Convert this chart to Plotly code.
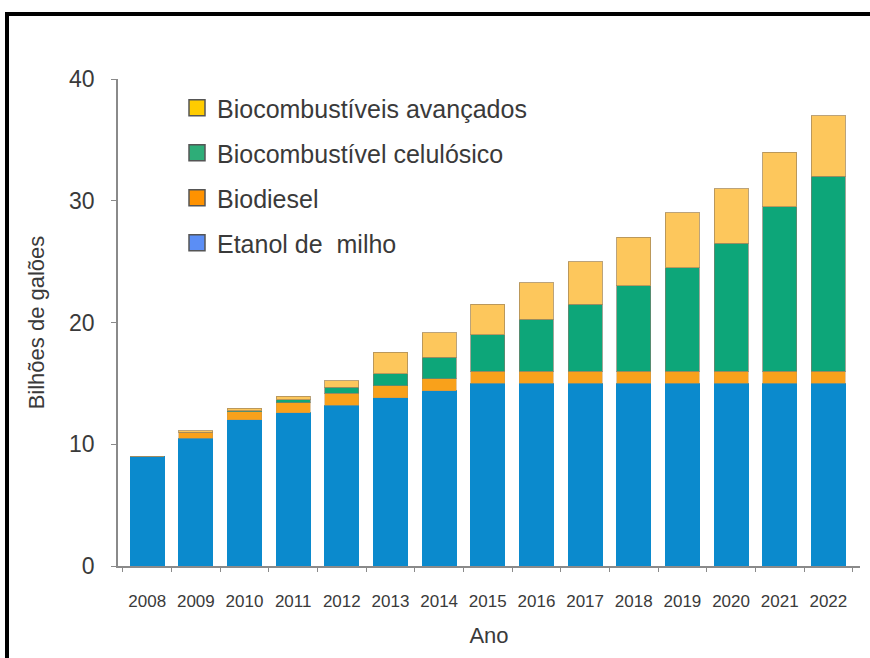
import plotly.graph_objects as go

anos = ["2008", "2009", "2010", "2011", "2012", "2013", "2014", "2015",
        "2016", "2017", "2018", "2019", "2020", "2021", "2022"]
etanol_milho = [9.0, 10.5, 12.0, 12.6, 13.2, 13.8, 14.4, 15.0, 15.0, 15.0, 15.0, 15.0, 15.0, 15.0, 15.0]
biodiesel = [0.0, 0.5, 0.65, 0.8, 1.0, 1.0, 1.0, 1.0, 1.0, 1.0, 1.0, 1.0, 1.0, 1.0, 1.0]
celulosico = [0.0, 0.0, 0.1, 0.25, 0.5, 1.0, 1.75, 3.0, 4.25, 5.5, 7.0, 8.5, 10.5, 13.5, 16.0]
avancados = [0.0, 0.1, 0.2, 0.3, 0.5, 1.75, 2.0, 2.5, 3.0, 3.5, 4.0, 4.5, 4.5, 4.5, 5.0]

y_ticks = [0, 10, 20, 30, 40]

legend_names = ["Biocombustíveis avançados", "Biocombustível celulósico", "Biodiesel", "Etanol de  milho"]
legend_colors = ["#FFCC00", "#2EAD78", "#FF9200", "#5B8EF5"]

FONT = "Liberation Sans, Arial, sans-serif"
TXT = "#3a3a3a"

fig = go.Figure()

series = [
    (etanol_milho, "#0B8ACD", "rgba(11,138,205,1)"),
    (biodiesel, "#F9A11B", "rgba(200,150,80,0.5)"),
    (celulosico, "#0DA679", "rgba(120,130,110,0.7)"),
    (avancados, "#FDC75C", "rgba(170,140,90,0.8)"),
]
for vals, col, lcol in series:
    fig.add_trace(go.Bar(x=anos, y=vals, marker=dict(color=col, line=dict(color=lcol, width=1)),
                         showlegend=False, hoverinfo="y"))

for i, (nm, col) in enumerate(zip(legend_names, legend_colors)):
    fig.add_trace(go.Scatter(x=[None], y=[None], mode="markers", name=nm, legendgroup=str(i),
                             marker=dict(symbol="square", size=20, color=col,
                                         line=dict(color="#555555", width=1.5))))

W, H = 870, 658
L, R, T, B = 118, 10, 79, 92
pw, ph = W - L - R, H - T - B


def px_x(p):
    return (p - L) / pw


def px_y(p):
    return (H - B - p) / ph


fig.update_layout(
    width=W, height=H,
    barmode="stack", bargap=0.3,
    plot_bgcolor="white", paper_bgcolor="white",
    margin=dict(l=L, r=R, t=T, b=B),
    font=dict(family=FONT, color=TXT),
    legend=dict(x=px_x(177), y=px_y(85), xanchor="left", yanchor="top", bgcolor="rgba(0,0,0,0)",
                font=dict(size=25, color=TXT), tracegroupgap=9.5, itemsizing="trace"),
    xaxis=dict(range=[-0.6, 14.65], showline=True, linecolor="#8a8a8a", linewidth=1.5,
               ticks="outside", tickson="boundaries", ticklen=4, tickcolor="#8a8a8a",
               tickfont=dict(size=17, color=TXT), ticklabelstandoff=19,
               title=dict(text="Ano", font=dict(size=22, color=TXT), standoff=17)),
    yaxis=dict(range=[0, 40], tickvals=y_ticks, showline=True, linecolor="#8a8a8a", linewidth=1.5,
               ticks="outside", ticklen=5, tickcolor="#8a8a8a", showgrid=False, zeroline=False,
               tickfont=dict(size=23, color=TXT), ticklabelstandoff=12,
               title=dict(text="Bilhões de galões", font=dict(size=22, color=TXT), standoff=18)),
    shapes=[dict(type="rect", xref="paper", yref="paper",
                 x0=px_x(7), x1=px_x(920),
                 y0=px_y(720), y1=px_y(14),
                 line=dict(color="black", width=4))],
)

fig.write_html("out.html", config={"displayModeBar": False},
               post_script="document.body.style.margin='0';")
